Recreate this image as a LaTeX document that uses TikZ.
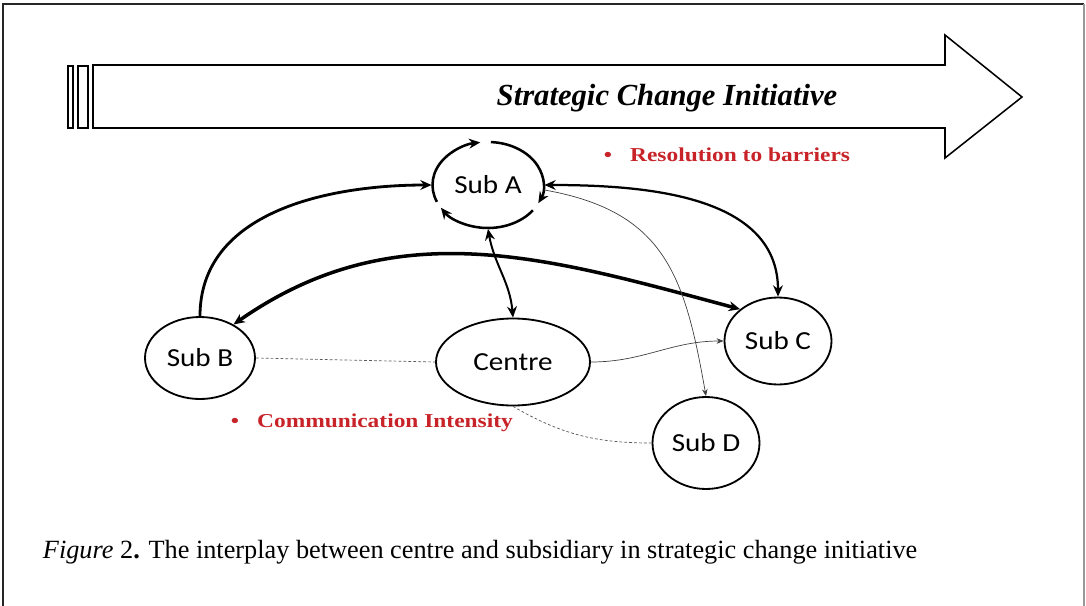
\documentclass[tikz,border=0pt]{standalone}
\usepackage{fontspec}
\setmainfont{Liberation Serif}
\newfontfamily\labelfont[FakeStretch=1.12]{Carlito}
\newfontfamily\widefont[FakeStretch=1.19]{Liberation Serif}
\definecolor{notered}{RGB}{200,35,40}
\usetikzlibrary{arrows.meta,positioning,shapes.geometric}

\begin{document}
\begin{tikzpicture}[
    subnode/.style={ellipse, draw, line width=1.3pt, inner sep=0pt,
                minimum width=2.7cm, minimum height=2.1cm,
                font=\labelfont\fontsize{18.5}{22}\selectfont},
    arr/.style={->, >={Stealth[length=8pt,width=7pt]}, line width=1.5pt},
    biarr/.style={arr, <->},
    thinarr/.style={->, >={Stealth[length=5pt,width=4pt]}, line width=0.5pt, black!75},
    link/.style={dash pattern=on 2pt off 1.5pt, line width=0.5pt, black!65},
    note/.style={font=\widefont\bfseries\fontsize{14}{16}\selectfont, text=notered, anchor=west}
  ]
    \useasboundingbox (0,0) rectangle (27.15,-15.15);

    % Frame
    \draw[line width=0.8pt, black!85] (0.075,-15.15) -- (0.075,-0.1) -- (27.1,-0.1);
    \draw[line width=0.8pt, black!40] (27.1,-0.1) -- (27.1,-15.15);

    % Big arrow
    \draw[line width=1.1pt] (2.325,-1.625) -- (23.625,-1.625) -- (23.625,-0.875)
      -- (25.55,-2.425) -- (23.625,-3.95) -- (23.625,-3.2) -- (2.325,-3.2) -- cycle;
    \draw[line width=1.1pt] (1.7,-1.65) rectangle (1.825,-3.2);
    \draw[line width=1.1pt] (1.95,-1.65) rectangle (2.2,-3.2);
    \node[font=\bfseries\itshape\fontsize{21.8}{26}\selectfont] (title) at (16.675,-2.45)
      {Strategic Change Initiative};

    % Subsidiaries and centre
    \node[subnode, draw=none, minimum width=2.775cm, minimum height=2.15cm] (subA) at (12.2,-4.625) {Sub A};
    \node[subnode, minimum width=2.75cm, minimum height=2.05cm]   (subB)   at (5.0,-8.95)    {Sub B};
    \node[subnode, minimum width=3.85cm, minimum height=2.175cm]  (centre) at (12.825,-9.05) {Centre};
    \node[subnode, minimum width=2.675cm, minimum height=2.175cm] (subC)   at (19.45,-8.525) {Sub C};
    \node[subnode, minimum width=2.675cm, minimum height=2.3cm]   (subD)   at (17.65,-11.075) {Sub D};

    % Ring round Sub A
    \draw[arr, line width=1.8pt] (subA.center) ++(203:1.3875 and 1.075)
      arc[start angle=203, end angle=98, x radius=1.3875cm, y radius=1.075cm];
    \draw[arr, line width=1.8pt] (subA.center) ++(87:1.3875 and 1.075)
      arc[start angle=87, end angle=-25, x radius=1.3875cm, y radius=1.075cm];
    \draw[arr, line width=1.8pt] (subA.center) ++(-36:1.3875 and 1.075)
      arc[start angle=-36, end angle=-148, x radius=1.3875cm, y radius=1.075cm];

    % Connectors
    \draw[arr, line width=2pt] (subB.north) to[out=90, in=180] (subA.west);
    \draw[biarr, line width=1.6pt] (subA.east) to[out=0, in=90] (subC.north);
    \draw[biarr, line width=2.5pt] (subB.45) to[out=35, in=165] (subC.140);
    \draw[biarr, line width=1.4pt] (subA.south) to[out=-80, in=95] (centre.north);
    \draw[thinarr] (subA.-5) to[out=-10, in=100, looseness=1.2] (subD.north);
    \draw[thinarr] (centre.east) to[out=0, in=180] (subC.west);
    \draw[link] (subB.east) -- (centre.west);
    \draw[link] (centre.south) to[out=-30, in=180] (subD.west);

    % Notes
    \node[note] (resol) at (14.975,-3.875) {\textbullet\hskip 0.45cm Resolution to barriers};
    \node[note] (comm)  at (5.65,-10.575)  {\textbullet\hskip 0.45cm Communication Intensity};

    % Caption
    \node[anchor=west, font=\fontsize{18.7}{22}\selectfont] (caption) at (0.95,-13.8)
      {\textit{Figure} 2\textbf{.} The interplay between centre and subsidiary in strategic change initiative};
\end{tikzpicture}
\end{document}
